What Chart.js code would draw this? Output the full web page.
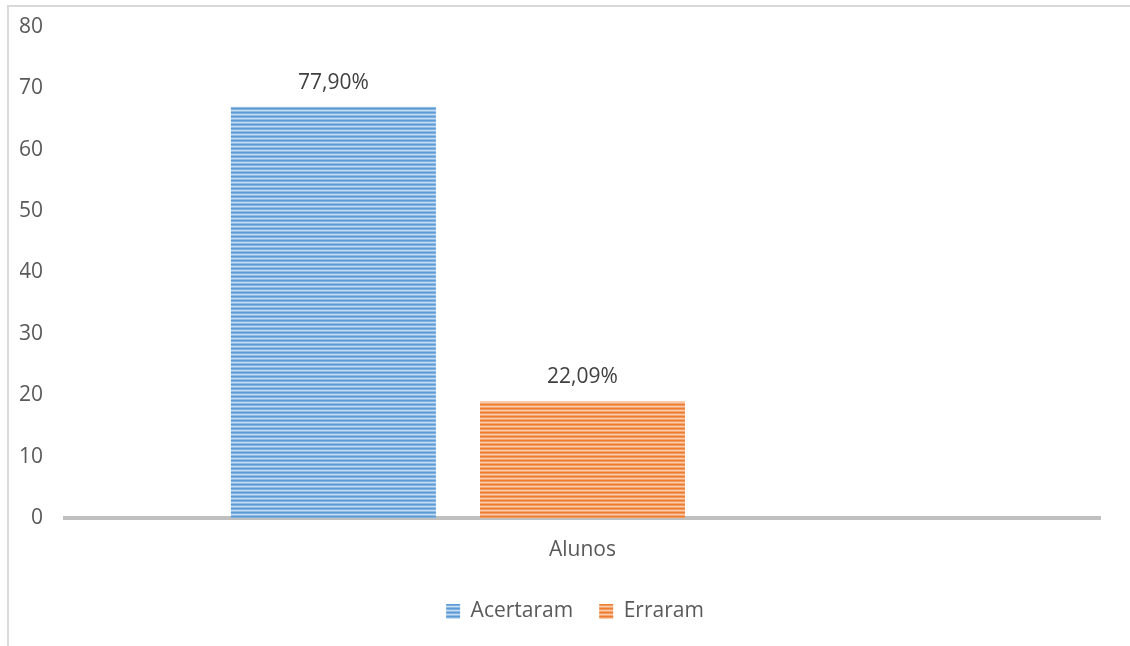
<!DOCTYPE html>
<html>
<head>
<meta charset="utf-8">
<script src="https://cdn.jsdelivr.net/npm/chart.js@4"></script>
<style>
    html, body { margin: 0; padding: 0; background: #ffffff; }
    #wrap { width: 1130px; height: 646px; position: relative; }
</style>
</head>
<body>
<div id="wrap"><canvas id="alunosChart"></canvas></div>
<script>
const categories = ['Alunos'];
const seriesNames = ['Acertaram', 'Erraram', ''];
const acertaramData = [67];
const erraramData = [19];
const vazioData = [null];
const percentLabels = [['77,90%'], ['22,09%'], []];
const yTicks = [0, 10, 20, 30, 40, 50, 60, 70, 80];

const textColor = '#595959';
const fontFamily = '"Open Sans", "Liberation Sans", sans-serif';

// horizontal stripe fill like the Excel pattern
const stripes = (rows) => {
    const c = document.createElement('canvas');
    c.width = 4;
    c.height = rows.length;
    const g = c.getContext('2d');
    rows.forEach((color, i) => {
        g.fillStyle = color;
        g.fillRect(0, i, 4, 1);
    });
    return g.createPattern(c, 'repeat');
};

const bluePattern = stripes(['#5b9bd5', '#7fb0e0', '#c6ddf2', '#8fbae4']);
const orangePattern = stripes(['#ed7d31', '#f29b60', '#f9cbaa', '#f4a672']);

const frame = {
    id: 'frame',
    beforeDraw(chart) {
        const ctx = chart.ctx;
        ctx.save();
        ctx.strokeStyle = '#d9d9d9';
        ctx.lineWidth = 2;
        ctx.beginPath();
        ctx.moveTo(8, chart.height);
        ctx.lineTo(8, 6);
        ctx.lineTo(chart.width, 6);
        ctx.stroke();
        ctx.restore();
    },
};

const valueLabels = {
    id: 'valueLabels',
    afterDatasetsDraw(chart) {
        const ctx = chart.ctx;
        ctx.save();
        ctx.font = `21px ${fontFamily}`;
        ctx.fillStyle = '#404040';
        ctx.textAlign = 'center';
        ctx.textBaseline = 'middle';
        chart.data.datasets.forEach((ds, i) => {
            chart.getDatasetMeta(i).data.forEach((bar, j) => {
                const txt = percentLabels[i][j];
                if (txt) {
                    ctx.fillText(txt, bar.x, bar.y - 24);
                }
            });
        });
        ctx.restore();
    },
};

new Chart(document.getElementById('alunosChart'), {
    type: 'bar',
    data: {
        labels: categories,
        datasets: [
            { label: seriesNames[0], data: acertaramData, backgroundColor: bluePattern },
            { label: seriesNames[1], data: erraramData, backgroundColor: orangePattern },
            { label: seriesNames[2], data: vazioData, backgroundColor: '#a5a5a5' },
        ],
    },
    options: {
        responsive: true,
        maintainAspectRatio: false,
        animation: false,
        categoryPercentage: 0.722,
        barPercentage: 0.823,
        layout: {
            padding: { top: 27, right: 0, bottom: 14, left: 20 },
        },
        plugins: {
            tooltip: { enabled: false },
            legend: {
                position: 'bottom',
                labels: {
                    color: textColor,
                    boxWidth: 14,
                    boxHeight: 15,
                    padding: 26,
                    font: { family: fontFamily, size: 21 },
                    filter: (item) => item.text !== '',
                },
            },
        },
        scales: {
            x: {
                grid: { display: false, drawTicks: false },
                border: { color: '#c0c0c0', width: 4 },
                ticks: {
                    color: textColor,
                    padding: 19,
                    font: { family: fontFamily, size: 21 },
                },
                afterFit: (scale) => { scale.height = 57; },
            },
            y: {
                min: 0,
                max: 80,
                grid: { display: false, drawTicks: false },
                border: { display: false },
                afterBuildTicks: (scale) => {
                    scale.ticks = yTicks.map((v) => ({ value: v }));
                },
                ticks: {
                    color: textColor,
                    padding: 22,
                    font: { family: fontFamily, size: 21 },
                },
                afterFit: (scale) => {
                    scale.width = 45;
                    scale.paddingTop = 0;
                    scale.paddingBottom = 0;
                },
            },
            // empty right margin so the plot ends where the original does
            yRight: {
                position: 'right',
                min: 0,
                max: 80,
                grid: { display: false, drawTicks: false },
                border: { display: false },
                ticks: { display: false },
                afterFit: (scale) => {
                    scale.width = 30;
                    scale.paddingTop = 0;
                    scale.paddingBottom = 0;
                },
            },
        },
    },
    plugins: [frame, valueLabels],
});
</script>
</body>
</html>
